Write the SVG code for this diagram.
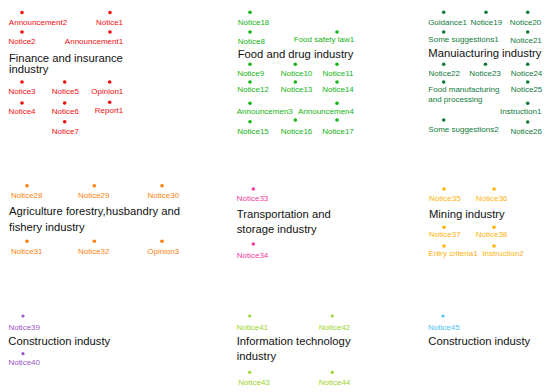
<svg xmlns="http://www.w3.org/2000/svg" width="550" height="392" viewBox="0 0 550 392">
<style>
text{font-family:"Liberation Sans",Arial,Helvetica,sans-serif}
.l{font-size:8px;text-anchor:middle}
.ll{font-size:8px}
.t{font-size:11.25px;fill:#111}
.fin{fill:#f20d0d}
.food{fill:#14b414}
.man{fill:#0f7a3a}
.agr{fill:#ff7f0e}
.tra{fill:#f23c9e}
.min{fill:#ffb20a}
.con{fill:#9a55c8}
.it{fill:#9cd42c}
.con2{fill:#4cc2f5}
</style>
<rect width="550" height="392" fill="#fff"/>
<g id="connectors"/>

<!-- Finance -->
<g class="fin">
<g id="Announcement2"><circle cx="22" cy="12.5" r="1.8"/><text class="l" x="38" y="24.6">Announcement2</text></g>
<g id="Notice1"><circle cx="110" cy="12.5" r="1.8"/><text class="l" x="109.5" y="24.6">Notice1</text></g>
<g id="Notice2"><circle cx="22" cy="32" r="1.8"/><text class="l" x="22" y="44.2">Notice2</text></g>
<g id="Announcement1"><circle cx="110" cy="32" r="1.8"/><text class="l" x="94" y="44.2">Announcement1</text></g>
<g id="Notice3"><circle cx="22" cy="82" r="1.8"/><text class="l" x="22" y="93.9">Notice3</text></g>
<g id="Notice5"><circle cx="64.7" cy="82" r="1.8"/><text class="l" x="65.3" y="93.9">Notice5</text></g>
<g id="Opinion1"><circle cx="109.7" cy="82" r="1.8"/><text class="l" x="107.3" y="93.7">Opinion1</text></g>
<g id="Notice4"><circle cx="22" cy="103" r="1.8"/><text class="l" x="22" y="113.9">Notice4</text></g>
<g id="Notice6"><circle cx="64.7" cy="103" r="1.8"/><text class="l" x="65.3" y="113.9">Notice6</text></g>
<g id="Report1"><circle cx="109.7" cy="102.3" r="1.8"/><text class="l" x="109" y="112.7">Report1</text></g>
<g id="Notice7"><circle cx="64.7" cy="121.7" r="1.8"/><text class="l" x="65.3" y="133.9">Notice7</text></g>
</g>
<g id="FinanceTitle"><text class="t" x="9" y="61.7">Finance and insurance</text><text class="t" x="9" y="73">industry</text></g>

<!-- Food -->
<g class="food">
<g id="Notice18"><circle cx="250" cy="12.3" r="1.8"/><text class="l" x="253.5" y="24.6">Notice18</text></g>
<g id="Notice8"><circle cx="250" cy="32" r="1.8"/><text class="l" x="251.3" y="43.9">Notice8</text></g>
<g id="FoodSafetyLaw1"><circle cx="337" cy="32" r="1.8"/><text class="l" x="324" y="42.2">Food safety law1</text></g>
<g id="Notice9"><circle cx="250" cy="64.3" r="1.8"/><text class="l" x="250.7" y="75.6">Notice9</text></g>
<g id="Notice10"><circle cx="295.3" cy="64.3" r="1.8"/><text class="l" x="296.5" y="75.6">Notice10</text></g>
<g id="Notice11"><circle cx="337" cy="64.3" r="1.8"/><text class="l" x="338" y="75.6">Notice11</text></g>
<g id="Notice12"><circle cx="250" cy="82" r="1.8"/><text class="l" x="253" y="92.2">Notice12</text></g>
<g id="Notice13"><circle cx="295.3" cy="82" r="1.8"/><text class="l" x="296.5" y="92.2">Notice13</text></g>
<g id="Notice14"><circle cx="337" cy="82" r="1.8"/><text class="l" x="338" y="92.2">Notice14</text></g>
<g id="Announcemen3"><circle cx="250" cy="103.3" r="1.8"/><text class="l" x="264.8" y="113.9">Announcemen3</text></g>
<g id="Announcemen4"><circle cx="337" cy="103.3" r="1.8"/><text class="l" x="326" y="113.9">Announcemen4</text></g>
<g id="Notice15"><circle cx="250" cy="121.7" r="1.8"/><text class="l" x="253" y="133.9">Notice15</text></g>
<g id="Notice16"><circle cx="295.3" cy="120" r="1.8"/><text class="l" x="296.5" y="133.9">Notice16</text></g>
<g id="Notice17"><circle cx="337" cy="120" r="1.8"/><text class="l" x="338" y="133.9">Notice17</text></g>
</g>
<g id="FoodTitle"><text class="t" x="237.7" y="58">Food and drug industry</text></g>

<!-- Manufacturing -->
<g class="man">
<g id="Guidance1"><circle cx="443.7" cy="12.3" r="1.8"/><text class="l" x="447.5" y="24.6">Guidance1</text></g>
<g id="Notice19"><circle cx="486" cy="12.3" r="1.8"/><text class="l" x="486.3" y="24.6">Notice19</text></g>
<g id="Notice20"><circle cx="527.7" cy="12.3" r="1.8"/><text class="l" x="525.5" y="24.6">Notice20</text></g>
<g id="SomeSuggestions1"><circle cx="443.7" cy="32" r="1.8"/><text class="l" x="463.5" y="41.8">Some suggestions1</text></g>
<g id="Notice21"><circle cx="527.7" cy="32" r="1.8"/><text class="l" x="526" y="43.2">Notice21</text></g>
<g id="Notice22"><circle cx="443.7" cy="64.3" r="1.8"/><text class="l" x="444.2" y="75.6">Notice22</text></g>
<g id="Notice23"><circle cx="485.5" cy="64.3" r="1.8"/><text class="l" x="485" y="75.6">Notice23</text></g>
<g id="Notice24"><circle cx="527.7" cy="64.3" r="1.8"/><text class="l" x="526.5" y="75.6">Notice24</text></g>
<g id="FoodManufacturing"><circle cx="443.7" cy="82" r="1.8"/><text class="ll" x="428.3" y="91.8">Food manufacturing</text><text class="ll" x="428.3" y="101.5">and processing</text></g>
<g id="Notice25"><circle cx="527.7" cy="82" r="1.8"/><text class="l" x="526.5" y="92.2">Notice25</text></g>
<g id="Instruction1"><circle cx="527.7" cy="103.3" r="1.8"/><text class="l" x="520.7" y="113.6">Instruction1</text></g>
<g id="SomeSuggestions2"><circle cx="443.7" cy="120" r="1.8"/><text class="l" x="463.5" y="131.8">Some suggestions2</text></g>
<g id="Notice26"><circle cx="527.7" cy="122" r="1.8"/><text class="l" x="526.2" y="133.9">Notice26</text></g>
</g>
<g id="ManufacturingTitle"><text class="t" x="428.3" y="57">Manuiacturing industry</text></g>

<!-- Agriculture -->
<g class="agr">
<g id="Notice28"><circle cx="27" cy="185.7" r="1.8"/><text class="l" x="26.7" y="198.2">Notice28</text></g>
<g id="Notice29"><circle cx="94.3" cy="185.7" r="1.8"/><text class="l" x="93.7" y="198.2">Notice29</text></g>
<g id="Notice30"><circle cx="162" cy="185.7" r="1.8"/><text class="l" x="163.3" y="198.2">Notice30</text></g>
<g id="Notice31"><circle cx="27" cy="241.3" r="1.8"/><text class="l" x="26.7" y="253.9">Notice31</text></g>
<g id="Notice32"><circle cx="94.3" cy="241.3" r="1.8"/><text class="l" x="93.7" y="253.9">Notice32</text></g>
<g id="Opinion3"><circle cx="162" cy="241.3" r="1.8"/><text class="l" x="163.3" y="253.5">Opinion3</text></g>
</g>
<g id="AgricultureTitle"><text class="t" x="9" y="215.3">Agriculture forestry,husbandry and</text><text class="t" x="9" y="231">fishery industry</text></g>

<!-- Transportation -->
<g class="tra">
<g id="Notice33"><circle cx="253.3" cy="189" r="1.8"/><text class="l" x="252.5" y="201.2">Notice33</text></g>
<g id="Notice34"><circle cx="253.3" cy="244" r="1.8"/><text class="l" x="252.5" y="257.9">Notice34</text></g>
</g>
<g id="TransportationTitle"><text class="t" x="236.7" y="217.7">Transportation and</text><text class="t" x="236.7" y="232.7">storage industry</text></g>

<!-- Mining -->
<g class="min">
<g id="Notice35"><circle cx="444" cy="189" r="1.8"/><text class="l" x="444.8" y="201.2">Notice35</text></g>
<g id="Notice36"><circle cx="494" cy="189" r="1.8"/><text class="l" x="491.5" y="201.2">Notice36</text></g>
<g id="Notice37"><circle cx="444" cy="227.3" r="1.8"/><text class="l" x="444.8" y="237.2">Notice37</text></g>
<g id="Notice38"><circle cx="494" cy="227.3" r="1.8"/><text class="l" x="491.5" y="237.2">Notice38</text></g>
<g id="EntryCriteria1"><circle cx="444" cy="246" r="1.8"/><text class="l" x="453" y="256.2">Entry criteria1</text></g>
<g id="Instruction2"><circle cx="494" cy="246" r="1.8"/><text class="l" x="503" y="256.2">Instruction2</text></g>
</g>
<g id="MiningTitle"><text class="t" x="429" y="217.7">Mining industry</text></g>

<!-- Construction (left) -->
<g class="con">
<g id="Notice39"><circle cx="23" cy="316" r="1.6"/><text class="l" x="24.2" y="329.9">Notice39</text></g>
<g id="Notice40"><circle cx="23" cy="353.7" r="1.6"/><text class="l" x="24.2" y="364.9">Notice40</text></g>
</g>
<g id="ConstructionTitle1"><text class="t" x="8.3" y="345.3">Construction industy</text></g>

<!-- Information technology -->
<g class="it">
<g id="Notice41"><circle cx="249.7" cy="316" r="1.6"/><text class="l" x="252.3" y="329.9">Notice41</text></g>
<g id="Notice42"><circle cx="332.3" cy="316" r="1.6"/><text class="l" x="334.5" y="329.9">Notice42</text></g>
<g id="Notice43"><circle cx="249.7" cy="372.3" r="1.6"/><text class="l" x="254" y="384.6">Notice43</text></g>
<g id="Notice44"><circle cx="332.3" cy="372.3" r="1.6"/><text class="l" x="334.5" y="384.6">Notice44</text></g>
</g>
<g id="ITTitle"><text class="t" x="236.7" y="345.3">Information technology</text><text class="t" x="236.7" y="360.3">industry</text></g>

<!-- Construction (right) -->
<g class="con2">
<g id="Notice45"><circle cx="443" cy="316" r="1.6"/><text class="l" x="443.8" y="329.9">Notice45</text></g>
</g>
<g id="ConstructionTitle2"><text class="t" x="428.3" y="345.3">Construction industy</text></g>
</svg>
